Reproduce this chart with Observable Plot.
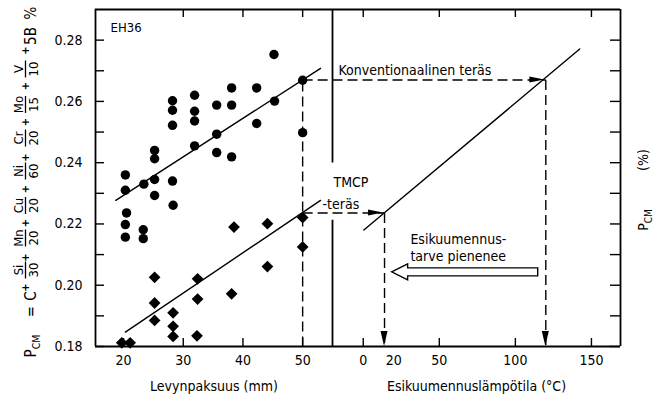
<!DOCTYPE html>
<html><head><meta charset="utf-8">
<script src="https://cdn.jsdelivr.net/npm/d3@7"></script>
<script src="https://cdn.jsdelivr.net/npm/@observablehq/plot@0.6"></script>
<style>
body{margin:0;background:#fff;}
#chart{position:relative;width:653px;height:398px;background:#fff;}
#chart svg{position:absolute;top:0;overflow:visible;}
</style></head><body><div id="chart"></div>
<script>
const FONT = '"DejaVu Sans Condensed","Liberation Sans Narrow","DejaVu Sans",sans-serif';

// --- Conventional steel (circles): plate thickness (mm) and P_CM (%)
const convThickness = [20.3,20.3,20.5,20.3,20.3,23.4,23.3,23.3,25.2,25.2,25.2,25.2,28.2,28.2,28.2,28.2,28.3,31.9,31.9,31.9,31.9,35.6,35.6,35.6,38.1,38.1,38.1,42.3,42.3,45.2,45.3,50.0,50.0];
const convPcm = [0.236,0.231,0.2236,0.2198,0.2157,0.233,0.2181,0.2152,0.244,0.2413,0.2345,0.2293,0.2602,0.2571,0.2522,0.234,0.2261,0.262,0.2568,0.2536,0.2455,0.2588,0.2493,0.2433,0.2644,0.2588,0.2419,0.2644,0.2528,0.2753,0.2601,0.2669,0.2498];
// --- TMCP steel (diamonds)
const tmcpThickness = [19.7,21.1,25.2,25.2,25.2,28.3,28.3,28.3,32.4,32.4,32.3,38.5,38.1,44.1,44.1,50.0,50.0];
const tmcpPcm = [0.1812,0.1812,0.2026,0.1942,0.1885,0.191,0.1866,0.1833,0.2021,0.1955,0.1835,0.219,0.1972,0.2201,0.2061,0.2221,0.2125];
// --- Trend lines
const convFitThickness = [18.7, 53.0];
const convFitPcm = [0.2277, 0.2708];
const tmcpFitThickness = [20.3, 53.0];
const tmcpFitPcm = [0.1847, 0.2277];
// --- P_CM vs preheating temperature (°C)
const preheatTemp = [0.4, 142.3];
const preheatPcm = [0.218, 0.2771];
// --- Readings for 50 mm plate
const readThickness = 50;
const convReadPcm = 0.267, convReadTemp = 120;
const tmcpReadPcm = 0.2236, tmcpReadTemp = 14;
const reliefArrow = {from: 115, to: 19, pcm: 0.2042};
// --- Axes
const yDomain = [0.18, 0.29];
const yTickLabels = [0.18, 0.20, 0.22, 0.24, 0.26, 0.28];
const yTicks = [0.18, 0.19, 0.20, 0.21, 0.22, 0.23, 0.24, 0.25, 0.26, 0.27, 0.28];
const thickDomain = [15.3, 55.0];
const thickTicks = [20, 30, 40, 50];
const tempDomain = [-20.2, 169.1];
const tempTickLabels = [0, 20, 50, 100, 150];
const tempTicks = [0, 50, 100, 150];
const dividerGap = [0.2212, 0.2399];
// --- Texts
const gradeLabel = "EH36";
const xTitleLeft = "Levynpaksuus (mm)";
const xTitleRight = "Esikuumennuslämpötila (°C)";
const convLabel = "Konventionaalinen teräs";
const tmcpLabel1 = "TMCP", tmcpLabel2 = "-teräs";
const reliefNote = {text: "Esikuumennus-\ntarve pienenee", temp: 31, pcm: 0.2173};
const formula = [["Si","30"],["Mn","20"],["Cu","20"],["Ni","60"],["Cr","20"],["Mo","15"],["V","10"]];

const conv = convThickness.map((t, i) => ({t, p: convPcm[i]}));
const tmcp = tmcpThickness.map((t, i) => ({t, p: tmcpPcm[i]}));
const convFit = convFitThickness.map((t, i) => ({t, p: convFitPcm[i]}));
const tmcpFit = tmcpFitThickness.map((t, i) => ({t, p: tmcpFitPcm[i]}));
const preheat = preheatTemp.map((t, i) => ({t, p: preheatPcm[i]}));

const H = 398, mT = 9, mB = 52;
const innerH = H - mT - mB;
const LW = 332, RW = 321, mL = 95, mR = 33;
const leftInner = LW - mL, rightInner = RW - mR;
const dash = "10,5";
const style = {background: "transparent", fontSize: "14px", fontFamily: FONT, overflow: "visible", color: "black"};

const left = Plot.plot({
  width: LW, height: H, marginLeft: mL, marginRight: 0, marginTop: mT, marginBottom: mB,
  style,
  x: {domain: thickDomain, ticks: thickTicks, tickSize: 0, tickPadding: 9, label: null},
  y: {domain: yDomain, ticks: yTickLabels, tickSize: 0, tickPadding: 13, tickFormat: ".2f", label: null},
  marks: [
    Plot.tickY(yTicks, {y: d => d, insetRight: leftInner - 9, strokeWidth: 1.4}),
    Plot.tickX(thickTicks, {x: d => d, insetTop: innerH - 8, strokeWidth: 1.4}),
    Plot.tickX(thickTicks.slice(1), {x: d => d, insetBottom: innerH - 8, strokeWidth: 1.4}),
    Plot.ruleX([thickDomain[0]], {strokeWidth: 1.8}),
    Plot.ruleY([yDomain[0], yDomain[1]], {strokeWidth: 1.8}),
    Plot.ruleX([thickDomain[1]], {y1: yDomain[0], y2: dividerGap[0], strokeWidth: 1.8}),
    Plot.ruleX([thickDomain[1]], {y1: dividerGap[1], y2: yDomain[1], strokeWidth: 1.8}),
    Plot.link([
      {x1: readThickness, y1: yDomain[0], x2: readThickness, y2: convReadPcm},
      {x1: readThickness, y1: convReadPcm, x2: thickDomain[1], y2: convReadPcm},
      {x1: readThickness, y1: tmcpReadPcm, x2: thickDomain[1], y2: tmcpReadPcm}
    ], {x1: "x1", y1: "y1", x2: "x2", y2: "y2", strokeWidth: 1.4, strokeDasharray: dash}),
    Plot.line(convFit, {x: "t", y: "p", strokeWidth: 1.4}),
    Plot.line(tmcpFit, {x: "t", y: "p", strokeWidth: 1.4}),
    Plot.dot(conv, {x: "t", y: "p", r: 4.7, fill: "black", stroke: "none"}),
    Plot.dot(tmcp, {x: "t", y: "p", r: 5.3, symbol: "diamond2", fill: "black", stroke: "none"}),
    Plot.text([gradeLabel], {frameAnchor: "top-left", dx: 15, dy: 13, lineAnchor: "top", textAnchor: "start", fontSize: 13}),
    Plot.text([xTitleLeft], {frameAnchor: "bottom", dy: 44})
  ]
});

const right = Plot.plot({
  width: RW, height: H, marginLeft: 0, marginRight: mR, marginTop: mT, marginBottom: mB,
  style,
  x: {domain: tempDomain, ticks: tempTickLabels, tickSize: 0, tickPadding: 9, label: null},
  y: {domain: yDomain, axis: null},
  marks: [
    Plot.tickY(yTicks, {y: d => d, insetLeft: rightInner - 10, strokeWidth: 1.4}),
    Plot.tickX(tempTicks, {x: d => d, insetTop: innerH - 8, strokeWidth: 1.4}),
    Plot.tickX(tempTicks, {x: d => d, insetBottom: innerH - 8, strokeWidth: 1.4}),
    Plot.ruleX([tempDomain[1]], {strokeWidth: 1.8}),
    Plot.ruleY([yDomain[0], yDomain[1]], {strokeWidth: 1.8}),
    Plot.link([
      {x1: tempDomain[0], y1: convReadPcm, x2: convReadTemp, y2: convReadPcm},
      {x1: convReadTemp, y1: convReadPcm, x2: convReadTemp, y2: yDomain[0]},
      {x1: tempDomain[0], y1: tmcpReadPcm, x2: tmcpReadTemp, y2: tmcpReadPcm},
      {x1: tmcpReadTemp, y1: tmcpReadPcm, x2: tmcpReadTemp, y2: yDomain[0]}
    ], {x1: "x1", y1: "y1", x2: "x2", y2: "y2", strokeWidth: 1.4, strokeDasharray: dash}),
    Plot.line(preheat, {x: "t", y: "p", strokeWidth: 1.4}),
    Plot.text([convLabel], {x: tempDomain[0], y: convReadPcm, dx: 6, dy: -9, textAnchor: "start", lineAnchor: "middle"}),
    Plot.text([tmcpLabel1], {x: tempDomain[0], y: tmcpReadPcm, dx: 1, dy: -30, textAnchor: "start", lineAnchor: "middle"}),
    Plot.text([tmcpLabel2], {x: tempDomain[0], y: tmcpReadPcm, dx: -10, dy: -8, textAnchor: "start", lineAnchor: "middle"}),
    Plot.text([reliefNote], {x: "temp", y: "pcm", text: "text", textAnchor: "start", lineAnchor: "top", lineHeight: 1.2}),
    Plot.text([xTitleRight], {frameAnchor: "bottom", dy: 44})
  ]
});
right.style.left = LW + "px";
left.style.left = "0px";
const chart = document.getElementById("chart");
chart.appendChild(left);
chart.appendChild(right);

// Filled arrowheads and hollow arrow, positioned through Plot's own scales
const rx = right.scale("x"), ry = right.scale("y");
const X = v => rx.apply(v), Y = v => ry.apply(v);
const gR = d3.select(right).append("g");
function headRight(x, y) { return `M${x},${y}L${x-15},${y-3}L${x-15},${y+3}Z`; }
function headDown(x, y) { return `M${x},${y}L${x-3.5},${y-15}L${x+3.5},${y-15}Z`; }
gR.append("path").attr("d", headRight(X(convReadTemp) - 1, Y(convReadPcm))).attr("fill", "black");
gR.append("path").attr("d", headRight(X(tmcpReadTemp) - 1, Y(tmcpReadPcm))).attr("fill", "black");
gR.append("path").attr("d", headDown(X(convReadTemp), Y(yDomain[0]))).attr("fill", "black");
gR.append("path").attr("d", headDown(X(tmcpReadTemp), Y(yDomain[0]))).attr("fill", "black");
{
  const xt = X(reliefArrow.to), xs = X(reliefArrow.from), y = Y(reliefArrow.pcm);
  gR.append("path")
    .attr("d", `M${xt},${y}L${xt+16},${y-8}L${xt+16},${y-4}L${xs},${y-4}L${xs},${y+4}L${xt+16},${y+4}L${xt+16},${y+8}Z`)
    .attr("fill", "white").attr("stroke", "black").attr("stroke-width", 1.4);
}
// Right axis title P_CM (%)
{
  const g = gR.append("g").attr("transform", `translate(${RW - 5},220) rotate(-90)`)
    .attr("font-family", FONT).attr("font-size", 14);
  const t = g.append("text").attr("x", 0).attr("y", 0).text("P");
  t.append("tspan").attr("font-size", 10).attr("dy", 4).text("CM");
  g.append("text").attr("x", 60).attr("y", 0).attr("text-anchor", "middle").text("(%)");
}
// Left axis title: P_CM formula
{
  const g = d3.select(left).append("g").attr("transform", "translate(30,347) rotate(-90)")
    .attr("font-family", FONT);
  const main = 5.5, bar = -4.5, num = -7, den = 7.5;
  const t = g.append("text").attr("x", 1).attr("y", main).attr("font-size", 15).text("P");
  t.append("tspan").attr("font-size", 10.5).attr("dy", 4).text("CM");
  g.append("text").attr("x", 35.5).attr("y", main).attr("font-size", 15).attr("text-anchor", "middle").text("=");
  g.append("text").attr("x", 51).attr("y", main).attr("font-size", 15).attr("text-anchor", "middle").text("C");
  const fracPos = [77, 109, 141.5, 176, 209, 242.5, 278];
  const plusPos = [59.4, 89.5, 124, 158, 189.4, 225, 261, 296.5];
  plusPos.forEach(px => g.append("text").attr("x", px).attr("y", bar).attr("font-size", 11)
    .attr("font-weight", "bold").attr("text-anchor", "middle").attr("dominant-baseline", "central").text("+"));
  formula.forEach(([n, d], i) => {
    const cx = fracPos[i];
    g.append("text").attr("x", cx).attr("y", num).attr("font-size", 13).attr("text-anchor", "middle").text(n);
    g.append("text").attr("x", cx).attr("y", den).attr("font-size", 13).attr("text-anchor", "middle").text(d);
    g.append("line").attr("x1", cx - 8.5).attr("x2", cx + 8.5).attr("y1", bar).attr("y2", bar).attr("stroke", "black").attr("stroke-width", 1.3);
  });
  g.append("text").attr("x", 311).attr("y", main).attr("font-size", 15).attr("text-anchor", "middle").text("5B");
  g.append("text").attr("x", 334).attr("y", main).attr("font-size", 15).attr("text-anchor", "middle").text("%");
}
</script></body></html>
